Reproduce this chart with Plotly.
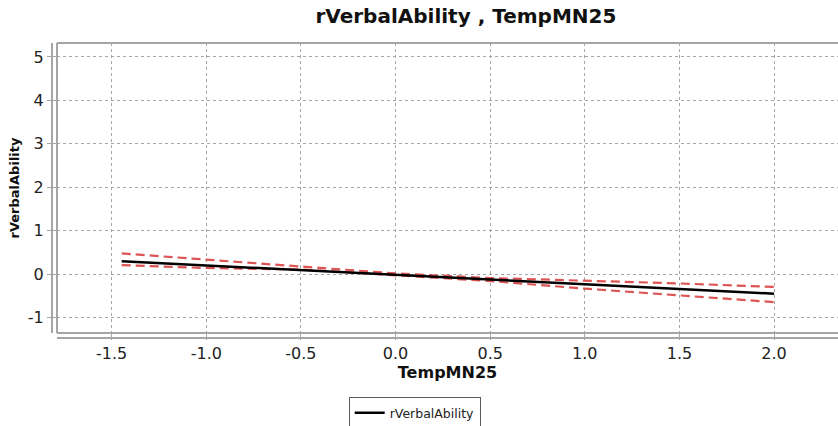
import plotly.graph_objects as go

# Data
x_vals = [-1.447, -1.0, -0.5, 0.0, 0.5, 1.0, 1.5, 2.0]
fit_vals = [0.30, 0.20, 0.09, -0.01, -0.12, -0.23, -0.33, -0.445]
upper_vals = [0.48, 0.34, 0.18, 0.02, -0.085, -0.14, -0.21, -0.29]
lower_vals = [0.21, 0.145, 0.11, -0.02, -0.155, -0.33, -0.48, -0.64]

x_ticks = [-1.5, -1.0, -0.5, 0.0, 0.5, 1.0, 1.5, 2.0]
x_tick_text = ["-1.5", "-1.0", "-0.5", "0.0", "0.5", "1.0", "1.5", "2.0"]
y_ticks = [-1, 0, 1, 2, 3, 4, 5]
y_tick_text = ["-1", "0", "1", "2", "3", "4", "5"]

FONT = "DejaVu Sans"
RED = "rgb(222,84,84)"
GRID = "rgb(165,165,165)"
BORDER = "rgb(165,165,165)"

fig = go.Figure()
fig.add_trace(go.Scatter(x=x_vals, y=upper_vals, mode="lines",
                         line=dict(color=RED, width=2.2, dash="9px,5px"),
                         showlegend=False, hoverinfo="skip"))
fig.add_trace(go.Scatter(x=x_vals, y=lower_vals, mode="lines",
                         line=dict(color=RED, width=2.2, dash="9px,5px"),
                         showlegend=False, hoverinfo="skip"))
fig.add_trace(go.Scatter(x=x_vals, y=fit_vals, mode="lines", name="rVerbalAbility",
                         line=dict(color="black", width=2.5)))

fig.update_layout(
    width=838, height=426,
    margin=dict(l=57, r=0, t=43, b=93, autoexpand=False),
    paper_bgcolor="white", plot_bgcolor="white",
    font=dict(family=FONT, color="black"),
    title=dict(text="<b>rVerbalAbility , TempMN25</b>", x=0.556, xanchor="center",
               y=0.962, yanchor="middle", font=dict(size=20, family=FONT, color="#111")),
    xaxis=dict(range=[-1.789, 2.338], tickvals=x_ticks, ticktext=x_tick_text,
               showgrid=True, gridcolor=GRID, griddash="dot", gridwidth=1,
               zeroline=False, showline=False, ticks="outside", ticklen=6,
               automargin=False,
               tickcolor=BORDER, tickfont=dict(size=16, family=FONT, color="#222"),
               title=dict(text="<b>TempMN25</b>", font=dict(size=16, family=FONT, color="#111"),
                          standoff=0)),
    yaxis=dict(range=[-1.35, 5.32], tickvals=y_ticks, ticktext=y_tick_text,
               showgrid=True, gridcolor=GRID, griddash="dot", gridwidth=1,
               zeroline=False, showline=False, ticks="outside", ticklen=9,
               automargin=False,
               tickcolor=BORDER, tickfont=dict(size=16, family=FONT, color="#222"),
               title=dict(text="<b>rVerbalAbility</b>", font=dict(size=13, family=FONT, color="#111"),
                          standoff=5)),
    legend=dict(orientation="h", x=0.458, xanchor="center", y=-0.2207, yanchor="top",
                bordercolor="rgb(90,90,90)", borderwidth=1, bgcolor="white",
                font=dict(size=12.5, family=FONT, color="#222")),
    shapes=[
        # plot area border (top, left, bottom)
        dict(type="line", xref="paper", yref="paper", x0=0, x1=1, y0=1, y1=1,
             line=dict(color=BORDER, width=2)),
        dict(type="line", xref="paper", yref="paper", x0=0, x1=0, y0=0, y1=1,
             line=dict(color=BORDER, width=2)),
        dict(type="line", xref="paper", yref="paper", x0=0, x1=1, y0=0, y1=0,
             line=dict(color=BORDER, width=2)),
        # offset axis lines
        dict(type="line", xref="paper", yref="paper", x0=-0.0064, x1=-0.0064, y0=0, y1=1,
             line=dict(color=BORDER, width=2)),
        dict(type="line", xref="paper", yref="paper", x0=0, x1=1, y0=-0.0172, y1=-0.0172,
             line=dict(color=BORDER, width=2)),
    ],
)

fig.write_html("out.html", config={"displayModeBar": False},
               post_script="document.body.style.margin='0';document.body.style.overflow='hidden';")
